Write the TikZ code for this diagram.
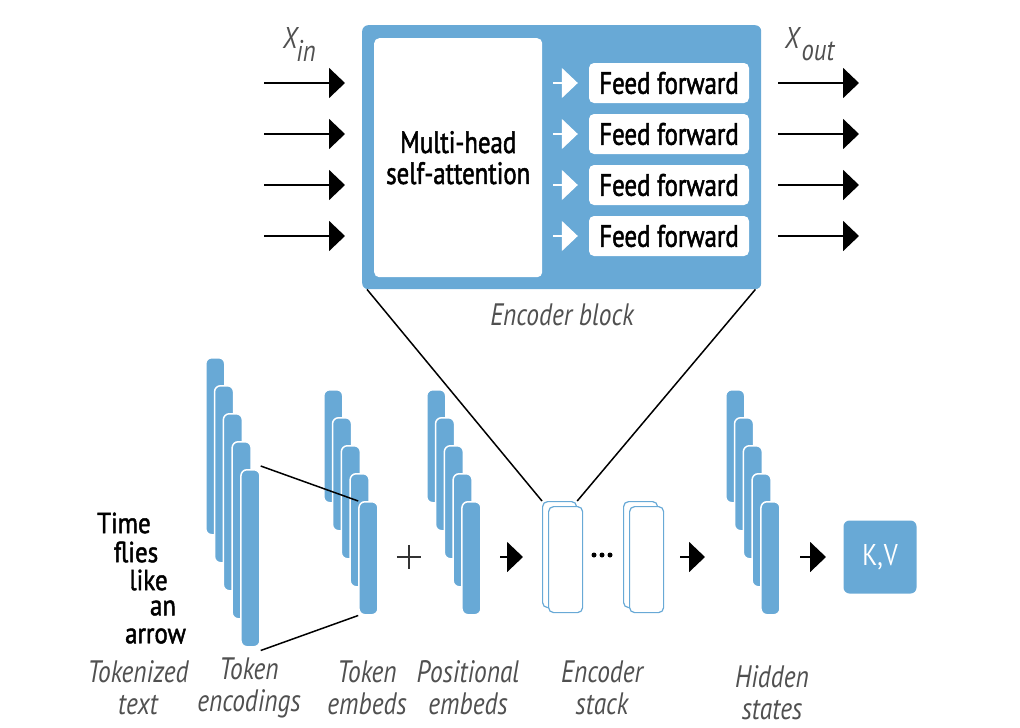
\documentclass[tikz,border=0pt]{standalone}
\usepackage{fontspec}
\setmainfont[FakeStretch=0.82]{PT Sans}
\newfontfamily\semibold[FakeStretch=0.8,FakeBold=1.6]{PT Sans}
\newfontfamily\wordfont[FakeStretch=0.86,FakeBold=1.6]{PT Sans}
\usetikzlibrary{arrows.meta}
\definecolor{blk}{HTML}{68A9D6}
\definecolor{lbl}{HTML}{505050}
\begin{document}
\begin{tikzpicture}[x=1pt,y=-1pt,
  bar/.style={draw=white, line width=1.5pt, fill=blk, rounded corners=6pt,
    minimum width=19pt, inner sep=0pt, anchor=north west},
  ffbox/.style={fill=white, rounded corners=5pt, minimum width=160pt,
    minimum height=40pt, inner sep=0pt, font=\fontsize{31}{31}\semibold},
  arr/.style={line width=2pt, -{Triangle[width=30pt,length=16pt]}},
  warr/.style={draw=white, line width=1.2pt, -{Triangle[width=30pt,length=16pt,fill=white]}},
  capt/.style={text=lbl, font=\fontsize{31}{32}\selectfont\itshape, align=center},
  word/.style={font=\fontsize{29}{29}\wordfont, inner sep=0pt},
  stk/.style={draw=blk, line width=1.2pt, fill=white, rounded corners=5pt,
    minimum width=34pt, minimum height=106pt, inner sep=0pt, anchor=north west},
  link/.style={line width=1.5pt}]
\useasboundingbox (0,0) rectangle (1020,728);

% encoder block
\node[fill=blk, rounded corners=6pt, minimum width=399pt, minimum height=264pt,
  inner sep=0pt, anchor=north west] (block) at (362,25) {};
\node[fill=white, rounded corners=5pt, minimum width=168pt, minimum height=239pt,
  inner sep=0pt, anchor=north west, align=center,
  font=\fontsize{31}{31}\semibold] (mha) at (374,38) {Multi-head\\self-attention};

\foreach \i/\y in {1/83,2/134,3/185,4/236}{
  \node[ffbox] (ff\i) at (669,\y) {Feed forward};
  \coordinate (ws\i) at (553,\y);
  \draw[warr] (ws\i) -- ([xshift=-11pt]ff\i.west);
  \coordinate (is\i) at (264,\y);
  \coordinate (ie\i) at (345,\y);
  \draw[arr] (is\i) -- (ie\i);
  \coordinate (os\i) at (778,\y);
  \coordinate (oe\i) at (859,\y);
  \draw[arr] (os\i) -- (oe\i);
}

\node[text=lbl, font=\fontsize{30}{30}\selectfont\itshape, inner sep=0pt] (xin) at (290,38) {X};
\node[text=lbl, font=\fontsize{30}{30}\selectfont\itshape, inner sep=0pt] (xinsub) at (306,51) {in};
\node[text=lbl, font=\fontsize{30}{30}\selectfont\itshape, inner sep=0pt] (xout) at (792,38) {X};
\node[text=lbl, font=\fontsize{30}{30}\selectfont\itshape, inner sep=0pt] (xoutsub) at (818,51) {out};
\node[capt] (blocklbl) at (562,315) {Encoder block};

% token encodings, embeddings and hidden states
\foreach \i in {1,...,5}{
  \node[bar, minimum height=177pt] (enc\i) at ({205+(\i-1)*8.8},{357+(\i-1)*28}) {};
}
\foreach \i in {1,...,5}{
  \node[bar, minimum height=113pt] (emb\i) at ({323+(\i-1)*8.8},{389+(\i-1)*28}) {};
  \node[bar, minimum height=113pt] (pos\i) at ({426+(\i-1)*8.8},{389+(\i-1)*28}) {};
  \node[bar, minimum height=113pt] (hid\i) at ({725+(\i-1)*8.8},{389+(\i-1)*28}) {};
}
\draw[link] ([yshift=3pt]enc5.north east) -- (emb5.north west);
\draw[link] ([yshift=-3pt]enc5.south east) -- (emb5.south west);

% plus sign
\node[inner sep=0pt, minimum size=24pt] (plus) at (409,557) {};
\draw[line width=1.3pt, black!80] (plus.west) -- (plus.east) (plus.north) -- (plus.south);

% encoder stack
\node[stk] (s1b) at (542,501) {};
\node[stk] (s1f) at (548,506) {};
\node[stk] (s2b) at (623,501) {};
\node[stk] (s2f) at (629,506) {};
\foreach \x/\n in {594/d1,602/d2,610/d3}{
  \node[circle, fill=black, inner sep=0pt, minimum size=5pt] (\n) at (\x,555) {};
}
\draw[link] ([xshift=5pt]block.south west) -- (s1b.north west);
\draw[link] ([xshift=-6pt]block.south east) -- (s1b.north east);

% arrows along the bottom row
\coordinate (b1s) at (500,557); \coordinate (b1e) at (523,557);
\coordinate (b2s) at (680,557); \coordinate (b2e) at (705,557);
\coordinate (b3s) at (800,557); \coordinate (b3e) at (826,557);
\draw[arr] (b1s) -- (b1e);
\draw[arr] (b2s) -- (b2e);
\draw[arr] (b3s) -- (b3e);

\node[fill=blk, rounded corners=6pt, minimum width=73pt, minimum height=73pt,
  inner sep=0pt, text=white, font=\fontsize{30}{30}\selectfont] (kv) at (880,557) {K,\kern1pt V};

% input sentence
\node[word] (w1) at (124,523) {Time};
\node[word] (w2) at (136,552) {flies};
\node[word] (w3) at (148.5,580) {like};
\node[word] (w4) at (163,608) {an};
\node[word] (w5) at (155.5,636) {arrow};

% captions
\node[capt] (c1) at (138,688) {Tokenized\\text};
\node[capt] (c2) at (249,688) {Token\\encodings};
\node[capt] (c3) at (367,688) {Token\\embeds};
\node[capt] (c4) at (468,688) {Positional\\embeds};
\node[capt] (c5) at (602,688) {Encoder\\stack};
\node[capt] (c6) at (772,693) {Hidden\\states};
\end{tikzpicture}
\end{document}
